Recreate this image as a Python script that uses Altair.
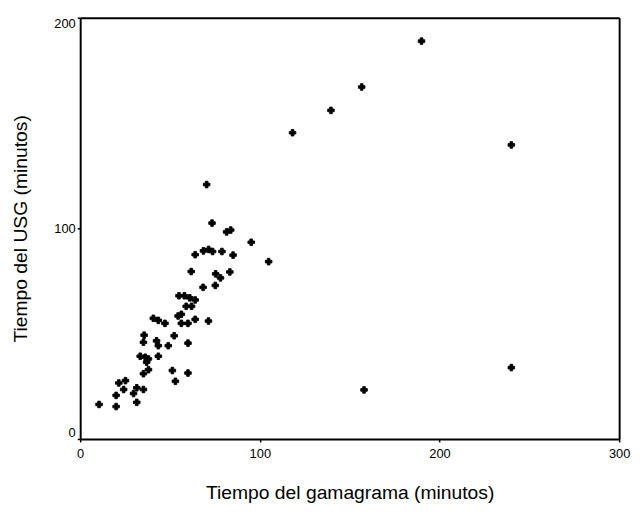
import altair as alt
import pandas as pd

# Tiempo del gamagrama (minutos)
gamagrama = [10.5, 20, 20, 21.5, 25.2, 24.2, 29.7, 31.5, 31.5, 35.2,
             35.2, 38, 33.4, 36.2, 38, 37, 43.5, 35.6, 35.2, 42.5,
             43.5, 49, 60, 52.3, 51.3, 60, 53, 40.7, 43.5, 47.2,
             54.5, 56.3, 56.3, 60, 64, 71.4, 55, 58, 61, 64,
             59, 62, 68.4, 75.2, 61.8, 75.4, 78.1, 83.3, 64, 68.6,
             71.5, 73.7, 78.9, 85.1, 70.4, 73.4, 81.5, 83.8, 95.2, 104.9,
             118.2, 139.6, 156.7, 190, 240, 240, 158]
# Tiempo del USG (minutos)
usg = [16.4, 15.4, 20.7, 26.6, 27.7, 23.5, 21.6, 24.3, 17.4, 23.5,
       31, 32.9, 39.3, 38.8, 38, 36.5, 39.3, 49.3, 45.9, 46.6,
       44.3, 44.3, 45.5, 49, 32.5, 31.3, 27.4, 57.3, 56.3, 54.9,
       58.4, 59.2, 54.9, 54.9, 56.8, 56, 68, 68, 67, 66,
       63, 63, 72, 72.9, 79.5, 78.4, 76.5, 79.3, 87.5, 89.3,
       90, 89, 89, 87.3, 120.8, 102.5, 98.3, 99.2, 93.4, 84.2,
       145.4, 156, 167.1, 188.9, 139.6, 33.9, 23.3]

x_ticks = [0, 100, 200, 300]
y_ticks = [0, 100, 200]

df = pd.DataFrame({"gam": gamagrama, "usg": usg})

font = "Liberation Sans"


def axis(title, values, flush, label_pad, title_pad):
    return alt.Axis(values=values, title=title, labelFlush=flush, grid=False,
                    domain=True, domainColor="black", domainWidth=2,
                    tickSize=3, tickColor="black", tickWidth=1.5,
                    labelPadding=label_pad,
                    labelFontSize=13, labelFont=font, labelColor="black",
                    titleFont=font, titleFontSize=19.5, titleFontWeight="normal",
                    titleColor="black", titlePadding=title_pad)


xscale = alt.Scale(domain=[0, 300], nice=False, zero=False)
yscale = alt.Scale(domain=[0, 200], nice=False, zero=False)

points = alt.Chart(df).mark_point(
    shape="cross", filled=True, size=44, color="black",
    stroke="black", strokeWidth=0.9, opacity=1
).encode(
    x=alt.X("gam:Q", scale=xscale,
            axis=axis("Tiempo del gamagrama (minutos)", x_ticks, False, 6, 23)),
    y=alt.Y("usg:Q", scale=yscale,
            axis=axis("Tiempo del USG (minutos)", y_ticks, True, 2, 24)),
)

# frame: top and right borders drawn as plain axis domains
frame = alt.Chart(df).mark_point(opacity=0).encode(
    x=alt.X("gam:Q", scale=xscale,
            axis=alt.Axis(orient="top", values=[], title=None, labels=False,
                          ticks=False, grid=False, domain=True,
                          domainColor="black", domainWidth=2)),
    y=alt.Y("usg:Q", scale=yscale,
            axis=alt.Axis(orient="right", values=[], title=None, labels=False,
                          ticks=False, grid=False, domain=True,
                          domainColor="black", domainWidth=2)),
)

chart = alt.layer(points, frame).resolve_axis(x="independent", y="independent").properties(
    width=545, height=426,
    background="white",
    autosize=alt.AutoSizeParams(type="none"),
    padding={"left": 73, "top": 7, "right": 13, "bottom": 70},
).configure_view(stroke=None)

chart.save("out.html", embed_options={"renderer": "svg", "actions": False})
